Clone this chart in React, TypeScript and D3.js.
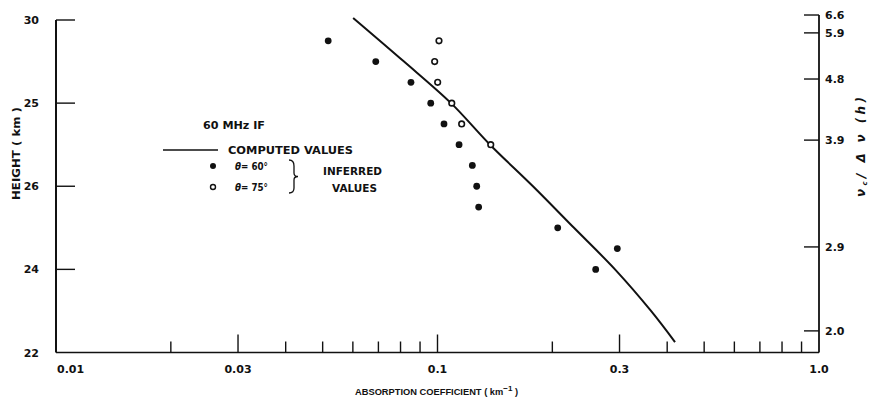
import React from "react";
import * as d3 from "d3";

// Absorption coefficient vs height, 60 MHz IF
const computedHeights = [30.05, 29, 28, 27, 26, 25, 24, 23, 22.25];
const computedValues = [0.0601, 0.0817, 0.1085, 0.1373, 0.1779, 0.2279, 0.2919, 0.3628, 0.4194];

const heights60 = [29.5, 29, 28.5, 28, 27.5, 27, 26.5, 26, 25.5, 25, 24.5, 24];
const values60 = [0.0517, 0.0689, 0.0852, 0.096, 0.104, 0.1139, 0.1234, 0.1267, 0.1282, 0.2066, 0.296, 0.2598];

const heights75 = [29.5, 29, 28.5, 28, 27.5, 27];
const values75 = [0.1009, 0.0983, 0.1001, 0.109, 0.1157, 0.1379];

const xMajorTicks = [0.03, 0.1, 0.3];
const xMinorTicks = [0.02, 0.04, 0.05, 0.06, 0.07, 0.08, 0.09, 0.2, 0.4, 0.5, 0.6, 0.7, 0.8, 0.9];
const xTickLabels = ["0.01", "0.03", "0.1", "0.3", "1.0"];
const xTickLabelValues = [0.01, 0.03, 0.1, 0.3, 1.0];

const yTickValues = [22, 24, 26, 28, 30];
const yTickLabels = ["22", "24", "26", "25", "30"];

const rightTickHeights = [30.12, 29.69, 28.58, 27.11, 24.54, 22.52];
const rightTickLabels = ["6.6", "5.9", "4.8", "3.9", "2.9", "2.0"];

const W = 869;
const H = 401;
const FONT = "'DejaVu Sans', sans-serif";
const INK = "#111";

export default function App() {
  const x = d3.scaleLog().domain([0.01, 1.0]).range([56, 819]);
  const y = d3.scaleLinear().domain([22, 30]).range([352.5, 20]);
  const bottom = y(22);

  const line = d3
    .line<number>()
    .x((_, i) => x(computedValues[i]))
    .y((h) => y(h))
    .curve(d3.curveCatmullRom.alpha(0.5));

  return (
    <svg
      width={W}
      height={H}
      style={{ position: "absolute", left: 0, top: 0, background: "#fff" }}
      fontFamily={FONT}
    >
      {/* axes frame */}
      <line x1={x(0.01)} y1={y(30)} x2={x(0.01)} y2={bottom} stroke={INK} strokeWidth={2} />
      <line x1={x(0.01)} y1={bottom} x2={x(1.0)} y2={bottom} stroke={INK} strokeWidth={1.6} />
      <line x1={x(1.0)} y1={y(rightTickHeights[0])} x2={x(1.0)} y2={bottom} stroke={INK} strokeWidth={1.8} />

      {/* x ticks */}
      {xMajorTicks.map((v) => (
        <line key={"M" + v} x1={x(v)} x2={x(v)} y1={bottom} y2={bottom - 18} stroke={INK} strokeWidth={1.4} />
      ))}
      {xMinorTicks.map((v) => (
        <line key={"m" + v} x1={x(v)} x2={x(v)} y1={bottom} y2={bottom - 11} stroke={INK} strokeWidth={1.4} />
      ))}
      {xTickLabelValues.map((v, i) => (
        <text
          key={"xl" + v}
          x={i === 0 ? x(v) + 1 : x(v)}
          y={373}
          textAnchor={i === 0 ? "start" : "middle"}
          fontSize={11}
          fontWeight="bold"
          fill={INK}
        >
          {xTickLabels[i]}
        </text>
      ))}
      <text x={355} y={395} fontSize={9.3} fontWeight="bold" fill={INK} fontFamily="'Liberation Sans', sans-serif">
        ABSORPTION COEFFICIENT ( km
        <tspan dy={-4} fontSize={8}>−1</tspan>
        <tspan dy={4}> )</tspan>
      </text>

      {/* left y ticks */}
      {yTickValues.map((v, i) => (
        <g key={"y" + v}>
          {v !== 22 && (
            <line x1={x(0.01)} x2={x(0.01) + 19} y1={y(v)} y2={y(v)} stroke={INK} strokeWidth={1.4} />
          )}
          <text x={39} y={y(v) + 4} textAnchor="end" fontSize={11} fontWeight="bold" fill={INK}>
            {yTickLabels[i]}
          </text>
        </g>
      ))}
      <text
        transform={`translate(20,200) rotate(-90)`}
        fontSize={10.5}
        fontWeight="bold"
        fill={INK}
        textLength={93}
        lengthAdjust="spacingAndGlyphs"
      >
        HEIGHT  ( km )
      </text>

      {/* right axis ticks */}
      {rightTickHeights.map((h, i) => (
        <g key={"r" + i}>
          <line x1={x(1.0) - 15} x2={x(1.0)} y1={y(h)} y2={y(h)} stroke={INK} strokeWidth={1.4} />
          <text x={825} y={y(h) + 4} fontSize={11} fontWeight="bold" fill={INK}>
            {rightTickLabels[i]}
          </text>
        </g>
      ))}
      <text
        transform={`translate(865,197) rotate(-90)`}
        fontSize={12}
        fontStyle="italic"
        fontWeight="bold"
        fill={INK}
        textLength={100}
        lengthAdjust="spacing"
      >
        ν<tspan dy={2} fontSize={7}>c</tspan>
        <tspan dy={-2}>/ Δ ν (h)</tspan>
      </text>

      {/* computed curve */}
      <path d={line(computedHeights) || ""} fill="none" stroke={INK} strokeWidth={2} />

      {/* inferred values */}
      {heights60.map((h, i) => (
        <circle key={"f" + i} cx={x(values60[i])} cy={y(h)} r={3.4} fill={INK} />
      ))}
      {heights75.map((h, i) => (
        <circle key={"o" + i} cx={x(values75[i])} cy={y(h)} r={2.8} fill="#fff" stroke={INK} strokeWidth={1.6} />
      ))}

      {/* legend */}
      <text x={203} y={129} fontSize={10.5} fontWeight="bold" fill={INK} textLength={62} lengthAdjust="spacingAndGlyphs">
        60 MHz  IF
      </text>
      <line x1={163} x2={218} y1={150} y2={150} stroke={INK} strokeWidth={1.6} />
      <text x={228} y={154} fontSize={11} fontWeight="bold" fill={INK} textLength={125} lengthAdjust="spacingAndGlyphs">
        COMPUTED VALUES
      </text>
      <circle cx={213} cy={166} r={3} fill={INK} />
      <text x={235} y={170} fontSize={10.5} fontWeight="bold" fill={INK} textLength={33} lengthAdjust="spacingAndGlyphs">
        <tspan fontStyle="italic">θ</tspan>= 60°
      </text>
      <circle cx={213} cy={187} r={2.5} fill="#fff" stroke={INK} strokeWidth={1.4} />
      <text x={235} y={191} fontSize={10.5} fontWeight="bold" fill={INK} textLength={33} lengthAdjust="spacingAndGlyphs">
        <tspan fontStyle="italic">θ</tspan>= 75°
      </text>
      <path
        d="M289,160 Q294,160 294,166 L294,173 Q294,176.5 298,176.5 Q294,176.5 294,180 L294,188 Q294,193 289,193"
        fill="none"
        stroke={INK}
        strokeWidth={1.3}
      />
      <text x={323} y={175} fontSize={10.5} fontWeight="bold" fill={INK} textLength={59} lengthAdjust="spacingAndGlyphs">
        INFERRED
      </text>
      <text x={332} y={192} fontSize={10.5} fontWeight="bold" fill={INK} textLength={45} lengthAdjust="spacingAndGlyphs">
        VALUES
      </text>
    </svg>
  );
}
